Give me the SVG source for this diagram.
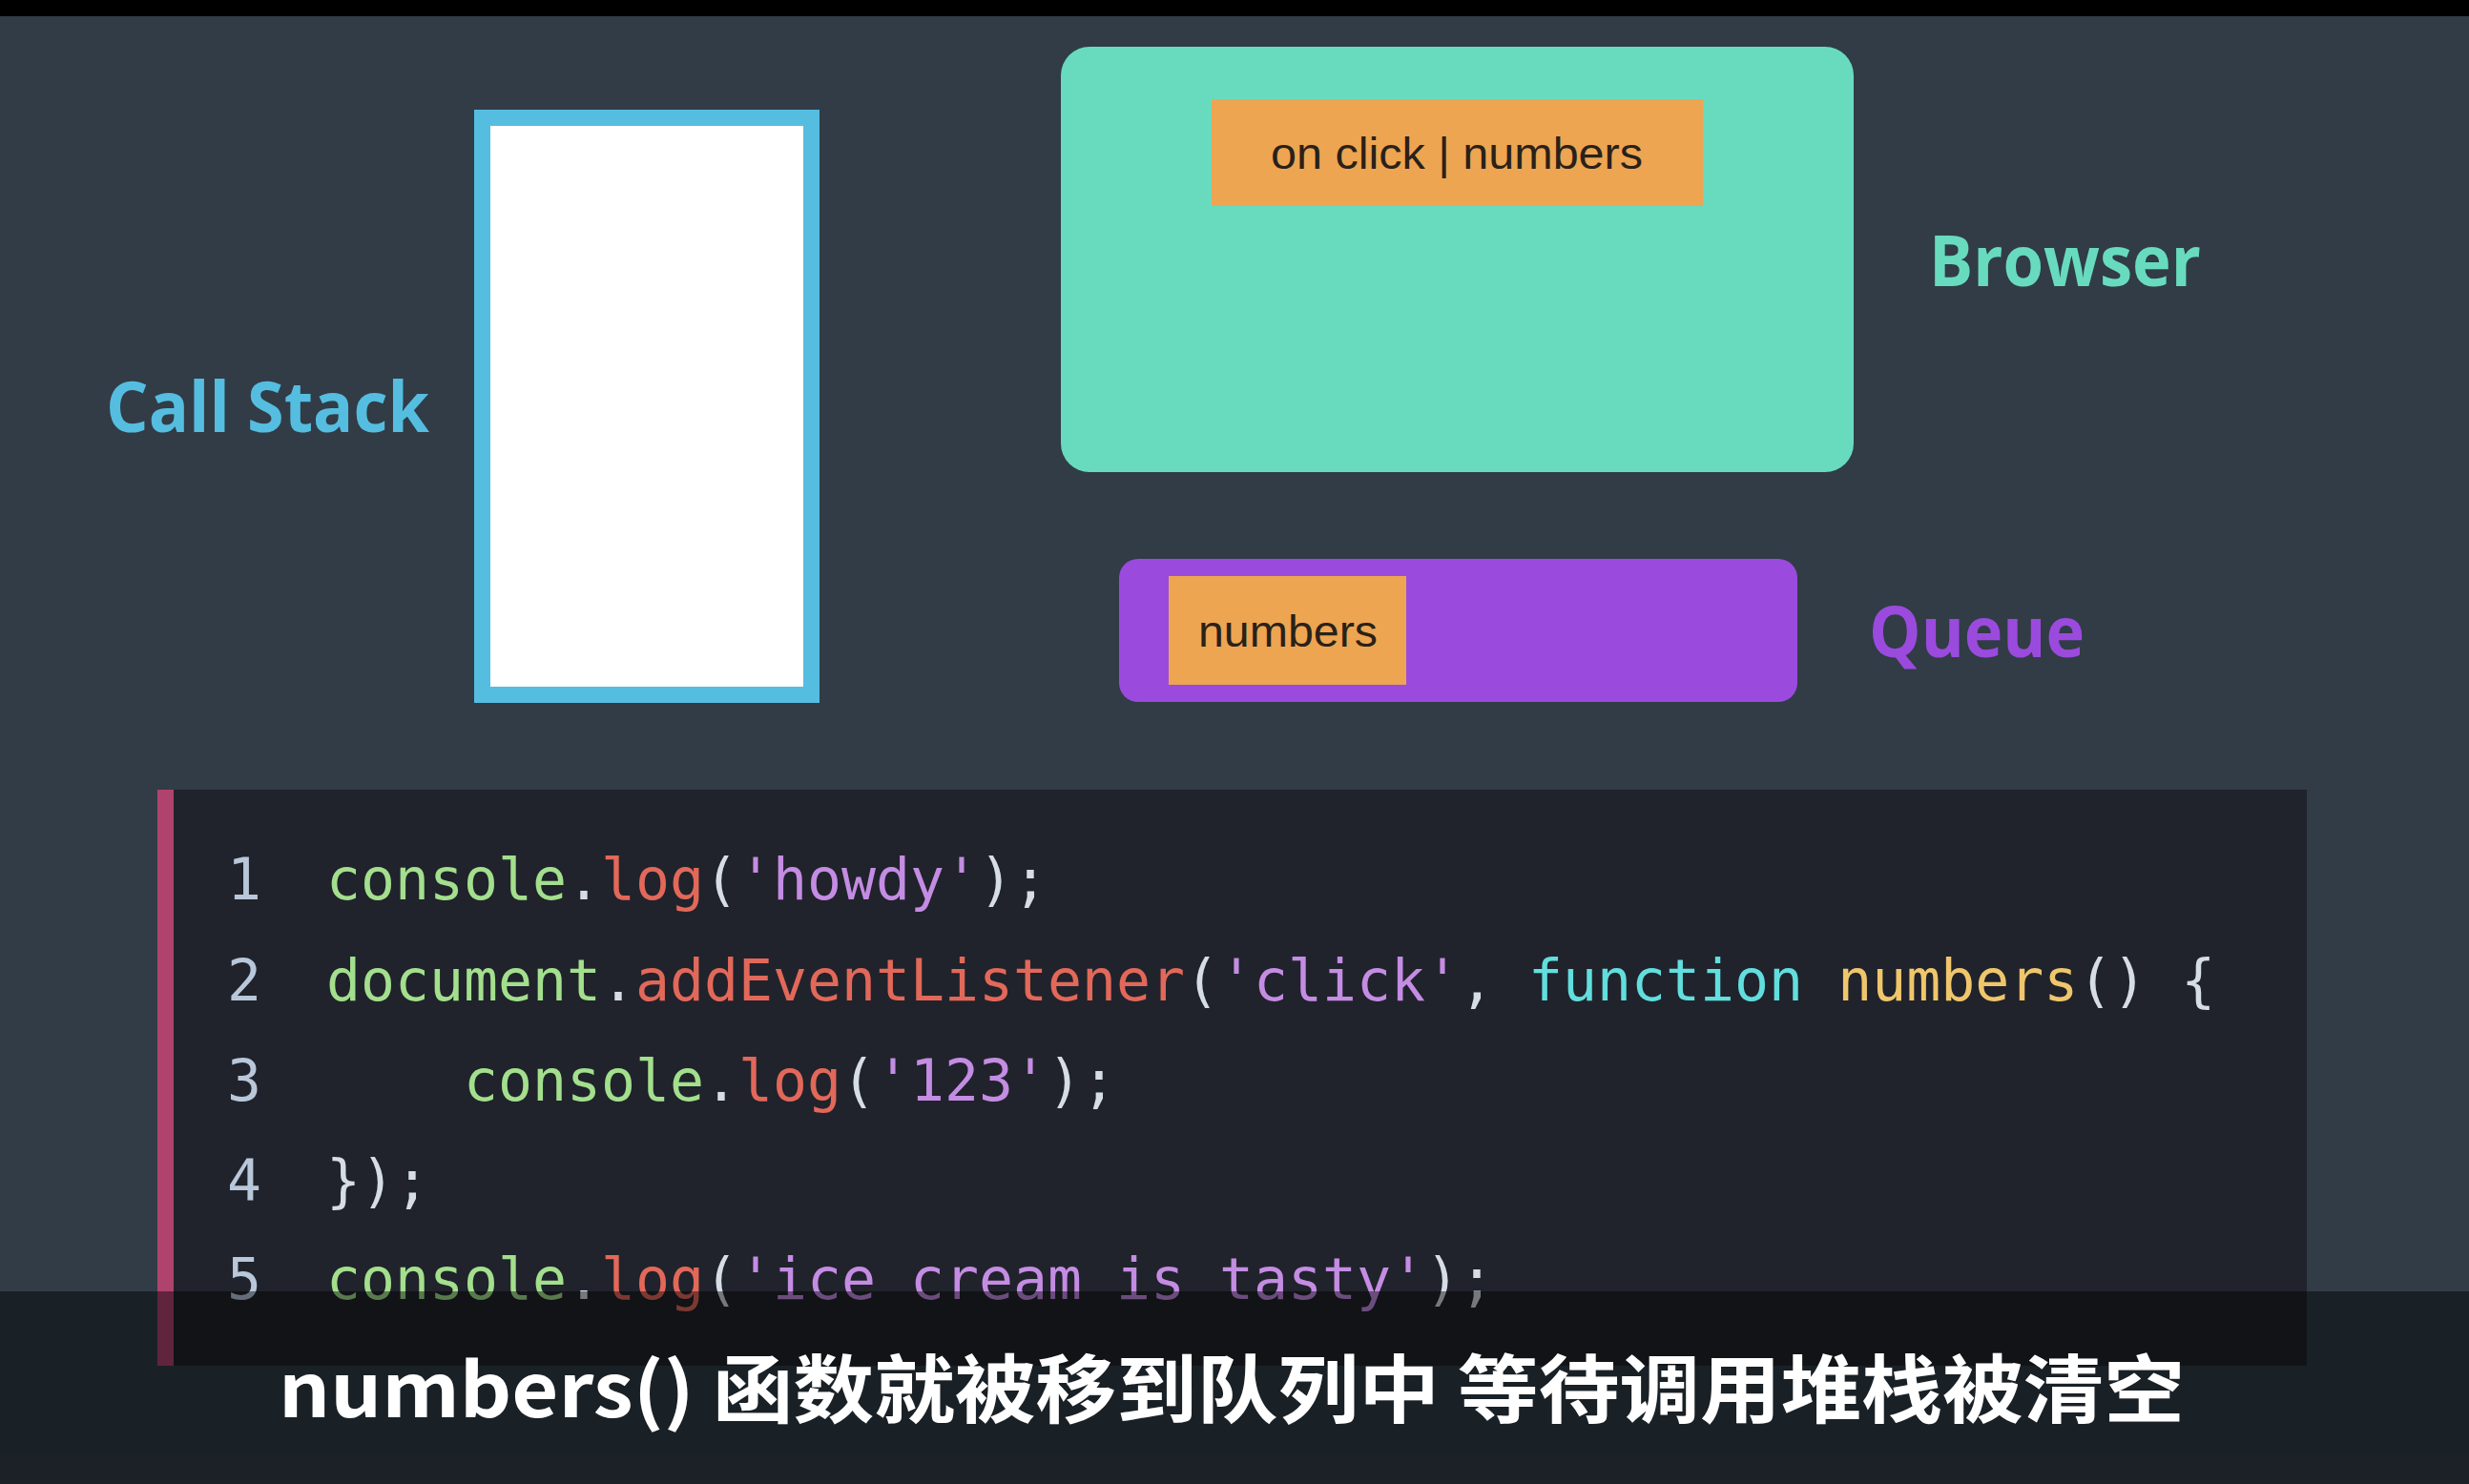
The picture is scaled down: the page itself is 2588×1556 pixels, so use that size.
<svg xmlns="http://www.w3.org/2000/svg" width="2588" height="1556" viewBox="0 0 2588 1556">
<style>
.lbl{font-family:"Open Sans","DejaVu Sans",sans-serif;font-weight:700;font-size:74px}
.tag{font-family:"Liberation Sans",Arial,sans-serif;font-size:46px;fill:#2a2118}
.code{font-family:"DejaVu Sans Mono","Liberation Mono",monospace;font-size:59.8px;fill:#d6dde6}
.ln{font-family:"DejaVu Sans Mono","Liberation Mono",monospace;font-size:59.8px;fill:#b9c7da}
.g{fill:#a3df8d}.r{fill:#e2685a}.p{fill:#c48ce3}.c{fill:#62dede}.y{fill:#efc66b}.w{fill:#d6dde6}
.sub{font-family:"Noto Sans CJK SC","Noto Sans",sans-serif;font-weight:700;font-size:78px;fill:#ffffff}
</style>
<rect x="0" y="0" width="2588" height="1556" fill="#313c46"/>
<rect x="0" y="0" width="2588" height="17" fill="#000000"/>

<g id="callstack">
<rect x="505.5" y="123.5" width="345" height="605" fill="#ffffff" stroke="#55bde0" stroke-width="17"/>
<text class="lbl" x="111" y="453" fill="#55bde0" textLength="339" lengthAdjust="spacingAndGlyphs">Call Stack</text>
</g>

<g id="browser">
<rect x="1112" y="49" width="831" height="446" rx="30" fill="#68dbbf"/>
<rect x="1270" y="104" width="515" height="112" fill="#eda552"/>
<text class="tag" x="1332" y="177" textLength="390" lengthAdjust="spacingAndGlyphs">on click | numbers</text>
<text class="lbl" x="2022" y="300" fill="#68dbbf" textLength="285" lengthAdjust="spacingAndGlyphs">Browser</text>
</g>

<g id="queue">
<rect x="1173" y="586" width="711" height="150" rx="20" fill="#9b4ade"/>
<rect x="1225" y="604" width="249" height="114" fill="#eda552"/>
<text class="tag" x="1256" y="678" textLength="188" lengthAdjust="spacingAndGlyphs">numbers</text>
<text class="lbl" x="1959" y="689" fill="#9b4ade" textLength="226" lengthAdjust="spacingAndGlyphs">Queue</text>
</g>

<g id="connectors"></g>

<g id="code">
<rect x="165" y="828" width="2253" height="604" fill="#20232b"/>
<rect x="165" y="828" width="17" height="604" fill="#b0436e"/>
<text class="ln" x="256" y="943" text-anchor="middle">1</text>
<text class="ln" x="256" y="1049" text-anchor="middle">2</text>
<text class="ln" x="256" y="1154" text-anchor="middle">3</text>
<text class="ln" x="256" y="1259" text-anchor="middle">4</text>
<text class="ln" x="256" y="1362" text-anchor="middle">5</text>
<text class="code" x="342" y="943" xml:space="preserve"><tspan class="g">console</tspan><tspan class="w">.</tspan><tspan class="r">log</tspan><tspan class="w">(</tspan><tspan class="p">'howdy'</tspan><tspan class="w">);</tspan></text>
<text class="code" x="342" y="1049" xml:space="preserve"><tspan class="g">document</tspan><tspan class="w">.</tspan><tspan class="r">addEventListener</tspan><tspan class="w">(</tspan><tspan class="p">'click'</tspan><tspan class="w">, </tspan><tspan class="c">function</tspan><tspan class="w"> </tspan><tspan class="y">numbers</tspan><tspan class="w">() {</tspan></text>
<text class="code" x="342" y="1154" xml:space="preserve"><tspan class="w">    </tspan><tspan class="g">console</tspan><tspan class="w">.</tspan><tspan class="r">log</tspan><tspan class="w">(</tspan><tspan class="p">'123'</tspan><tspan class="w">);</tspan></text>
<text class="code" x="342" y="1259" xml:space="preserve"><tspan class="w">});</tspan></text>
<text class="code" x="342" y="1362" xml:space="preserve"><tspan class="g">console</tspan><tspan class="w">.</tspan><tspan class="r">log</tspan><tspan class="w">(</tspan><tspan class="p">'ice cream is tasty'</tspan><tspan class="w">);</tspan></text>
</g>

<g id="subtitle">
<rect x="0" y="1354" width="2588" height="202" fill="#000000" fill-opacity="0.45"/>
<text class="sub" x="292" y="1486" textLength="1998" lengthAdjust="spacingAndGlyphs">numbers() 函数就被移到队列中 等待调用堆栈被清空</text>
</g>
</svg>
